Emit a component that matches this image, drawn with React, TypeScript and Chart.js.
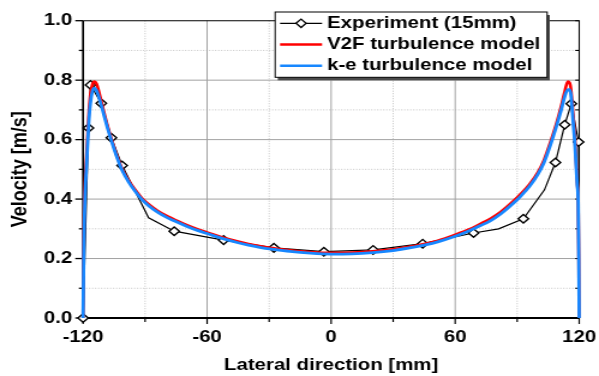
import React, { useEffect, useRef } from 'react';
import { Chart, registerables } from 'chart.js';

Chart.register(...registerables);

// Page / canvas geometry (the reference is horizontally stretched, so we draw
// on a narrower canvas and stretch it with CSS).
const PAGE_W = 599;
const PAGE_H = 376;
const STRETCH = 1.2;
const CANVAS_W = Math.round(PAGE_W / STRETCH);

const FONT = '"Liberation Sans", Arial, Helvetica, sans-serif';

// Axis ticks
const xMajorTicks = [-120, -60, 0, 60, 120];
const xMinorTicks = [-90, -30, 30, 90];
const yMajorTicks = [0, 0.2, 0.4, 0.6, 0.8, 1.0];
const yMinorTicks = [0.1, 0.3, 0.5, 0.7, 0.9];

// Series labels
const seriesLabels = ['Experiment (15mm)', 'V2F turbulence model', 'k-e turbulence model'];

// Experiment (15mm)
const expX = [-120, -117.4, -116.4, -111.2, -106.3, -101.1, -88.3, -75.9, -52, -27.7, -3.5, 20.3, 44.3, 68.9, 81, 93, 103.2, 108.5, 113, 116.2, 119.7, 120];
const expY = [0, 0.639, 0.784, 0.722, 0.606, 0.513, 0.337, 0.292, 0.262, 0.236, 0.223, 0.229, 0.25, 0.286, 0.3, 0.334, 0.431, 0.523, 0.65, 0.721, 0.592, 0];
const expMarked = [1, 1, 1, 1, 1, 1, 0, 1, 1, 1, 1, 1, 1, 1, 0, 1, 0, 1, 1, 1, 1, 0];

// V2F turbulence model
const v2fX = [-120, -119.6, -119, -118.2, -117.4, -116.5, -115.5, -114.5, -113.5, -112, -110, -108, -106, -104, -101, -98, -95, -91.5, -88, -84, -80, -76, -70, -64, -60, -52, -45, -40, -34, -28, -20, -10, 0, 10, 20, 30, 40, 45, 52, 60, 66, 72, 77, 82, 88, 92, 96, 100, 103, 106, 109, 111.3, 113, 114.5, 115.3, 116, 117, 118, 119, 119.5, 119.8, 120];
const v2fY = [0, 0.3, 0.46, 0.56, 0.67, 0.75, 0.785, 0.795, 0.788, 0.752, 0.695, 0.642, 0.596, 0.553, 0.5, 0.463, 0.433, 0.403, 0.381, 0.361, 0.345, 0.332, 0.313, 0.297, 0.288, 0.27, 0.257, 0.249, 0.241, 0.235, 0.228, 0.222, 0.219, 0.22, 0.224, 0.231, 0.242, 0.249, 0.261, 0.28, 0.296, 0.316, 0.334, 0.357, 0.392, 0.419, 0.45, 0.49, 0.532, 0.59, 0.655, 0.713, 0.762, 0.795, 0.792, 0.77, 0.69, 0.595, 0.46, 0.39, 0.2, 0];

// k-e turbulence model
const keX = [-120, -119.6, -119, -118.2, -117.4, -116.5, -115.5, -114.5, -113.5, -112, -110, -108, -106, -104, -101, -98, -95, -91.5, -88, -84, -80, -76, -70, -64, -60, -52, -45, -40, -34, -28, -20, -10, 0, 10, 20, 30, 40, 45, 52, 60, 66, 72, 77, 82, 88, 92, 96, 100, 103, 106, 109, 111.3, 113, 114.5, 115.3, 116, 117, 118, 119, 119.5, 119.8, 120];
const keY = [0, 0.25, 0.42, 0.53, 0.64, 0.72, 0.762, 0.773, 0.765, 0.735, 0.685, 0.635, 0.59, 0.548, 0.495, 0.458, 0.428, 0.398, 0.376, 0.356, 0.34, 0.327, 0.309, 0.293, 0.284, 0.266, 0.253, 0.245, 0.237, 0.231, 0.224, 0.218, 0.215, 0.216, 0.22, 0.227, 0.238, 0.245, 0.257, 0.275, 0.291, 0.31, 0.327, 0.35, 0.385, 0.412, 0.443, 0.483, 0.523, 0.58, 0.645, 0.7, 0.745, 0.768, 0.768, 0.75, 0.665, 0.575, 0.45, 0.39, 0.2, 0];

const toPoints = (xs: number[], ys: number[]) => xs.map((x, i) => ({ x, y: ys[i] }));

const framePlugin = {
  id: 'originFrame',
  beforeDatasetsDraw(chart: any) {
    const { ctx, chartArea: a, scales } = chart;
    const xs = scales.x;
    const ys = scales.y;
    ctx.save();
    // minor dotted grid
    ctx.strokeStyle = '#c4c4c4';
    ctx.lineWidth = 1;
    ctx.setLineDash([1, 1.5]);
    yMinorTicks.forEach((v) => {
      const p = ys.getPixelForValue(v);
      ctx.beginPath(); ctx.moveTo(a.left, p); ctx.lineTo(a.right, p); ctx.stroke();
    });
    xMinorTicks.forEach((v) => {
      const p = xs.getPixelForValue(v);
      ctx.beginPath(); ctx.moveTo(p, a.top); ctx.lineTo(p, a.bottom); ctx.stroke();
    });
    // major solid grid
    ctx.setLineDash([]);
    ctx.strokeStyle = '#a2a2a2';
    yMajorTicks.forEach((v) => {
      if (v <= 0 || v >= 1) return;
      const p = ys.getPixelForValue(v);
      ctx.beginPath(); ctx.moveTo(a.left, p); ctx.lineTo(a.right, p); ctx.stroke();
    });
    xMajorTicks.forEach((v) => {
      if (v <= -120 || v >= 120) return;
      const p = xs.getPixelForValue(v);
      ctx.beginPath(); ctx.moveTo(p, a.top); ctx.lineTo(p, a.bottom); ctx.stroke();
    });
    // frame: top & right thin
    ctx.strokeStyle = '#000';
    ctx.lineWidth = 1.1;
    ctx.beginPath(); ctx.moveTo(a.left, a.top); ctx.lineTo(a.right, a.top); ctx.lineTo(a.right, a.bottom); ctx.stroke();
    // inner ticks on right border
    [...yMajorTicks, ...yMinorTicks].forEach((v) => {
      const p = ys.getPixelForValue(v);
      ctx.beginPath(); ctx.moveTo(a.right, p); ctx.lineTo(a.right - 3.3, p); ctx.stroke();
    });
    // left & bottom axes
    ctx.lineWidth = 1.7;
    ctx.beginPath(); ctx.moveTo(a.left, a.top); ctx.lineTo(a.left, a.bottom); ctx.stroke();
    ctx.lineWidth = 2;
    ctx.beginPath(); ctx.moveTo(a.left - 1, a.bottom); ctx.lineTo(a.right + 0.5, a.bottom); ctx.stroke();
    // outer ticks
    ctx.lineWidth = 1.3;
    yMajorTicks.forEach((v) => {
      const p = ys.getPixelForValue(v);
      ctx.beginPath(); ctx.moveTo(a.left, p); ctx.lineTo(a.left - 6.5, p); ctx.stroke();
    });
    yMinorTicks.forEach((v) => {
      const p = ys.getPixelForValue(v);
      ctx.beginPath(); ctx.moveTo(a.left, p); ctx.lineTo(a.left - 3.5, p); ctx.stroke();
    });
    ctx.lineWidth = 1.2;
    xMajorTicks.forEach((v) => {
      const p = xs.getPixelForValue(v);
      ctx.beginPath(); ctx.moveTo(p, a.bottom); ctx.lineTo(p, a.bottom + 6); ctx.stroke();
    });
    xMinorTicks.forEach((v) => {
      const p = xs.getPixelForValue(v);
      ctx.beginPath(); ctx.moveTo(p, a.bottom); ctx.lineTo(p, a.bottom + 4); ctx.stroke();
    });
    ctx.restore();
  },
};

const legendPlugin = {
  id: 'boxLegend',
  afterDraw(chart: any) {
    const { ctx } = chart;
    const L = 229.2, T = 12, R = 455.8, B = 77.3;
    ctx.save();
    ctx.fillStyle = '#4a4a4a';
    ctx.fillRect(L + 2.2, T + 3, R - L, B - T);
    ctx.fillStyle = '#fff';
    ctx.fillRect(L, T, R - L, B - T);
    ctx.strokeStyle = '#000';
    ctx.lineWidth = 1;
    ctx.strokeRect(L, T, R - L, B - T);
    const x0 = 233.3, x1 = 268.3, tx = 272.5;
    chart.data.datasets.forEach((ds: any, i: number) => {
      const y = T + 11.3 + i * 21.25;
      ctx.strokeStyle = ds.borderColor;
      ctx.lineWidth = i === 0 ? 1.2 : 2.6;
      ctx.beginPath(); ctx.moveTo(x0, y); ctx.lineTo(x1, y); ctx.stroke();
      if (i === 0) {
        const cx = (x0 + x1) / 2, r = 4.2;
        ctx.beginPath();
        ctx.moveTo(cx - r, y); ctx.lineTo(cx, y - r); ctx.lineTo(cx + r, y); ctx.lineTo(cx, y + r); ctx.closePath();
        ctx.fillStyle = '#fff'; ctx.fill();
        ctx.lineWidth = 1.3; ctx.strokeStyle = '#000'; ctx.stroke();
      }
      ctx.fillStyle = '#000';
      ctx.font = `bold 17px ${FONT}`;
      ctx.textBaseline = 'middle';
      ctx.textAlign = 'left';
      ctx.fillText(ds.label, tx, y);
    });
    ctx.restore();
  },
};

export default function App() {
  const canvasRef = useRef<HTMLCanvasElement | null>(null);

  useEffect(() => {
    document.body.style.margin = '0';
    const canvas = canvasRef.current;
    if (!canvas) return;
    const chart = new Chart(canvas, {
      type: 'scatter',
      data: {
        datasets: [
          {
            label: seriesLabels[0],
            data: toPoints(expX, expY),
            showLine: true,
            borderColor: '#000',
            backgroundColor: '#fff',
            borderWidth: 1.2,
            tension: 0,
            pointStyle: 'rectRot',
            pointRadius: expMarked.map((m) => (m ? 4.3 : 0)),
            pointBorderWidth: 1.4,
            pointBorderColor: '#000',
            pointBackgroundColor: '#fff',
            clip: 8,
            order: 3,
          },
          {
            label: seriesLabels[1],
            data: toPoints(v2fX, v2fY),
            showLine: true,
            borderColor: '#ff0000',
            backgroundColor: '#ff0000',
            borderWidth: 2.6,
            pointRadius: 0,
            cubicInterpolationMode: 'monotone',
            clip: 8,
            order: 2,
          },
          {
            label: seriesLabels[2],
            data: toPoints(keX, keY),
            showLine: true,
            borderColor: '#1787ff',
            backgroundColor: '#1787ff',
            borderWidth: 2.8,
            pointRadius: 0,
            cubicInterpolationMode: 'monotone',
            clip: 8,
            order: 1,
          },
        ],
      },
      options: {
        responsive: false,
        maintainAspectRatio: false,
        devicePixelRatio: 1,
        animation: false,
        events: [],
        layout: { padding: { left: 0, right: 16.5, top: 20.7, bottom: 0 } },
        plugins: {
          legend: { display: false },
          tooltip: { enabled: false },
        },
        scales: {
          x: {
            type: 'linear',
            min: -120,
            max: 120,
            afterBuildTicks: (s: any) => { s.ticks = xMajorTicks.map((v) => ({ value: v })); },
            afterFit: (s: any) => { s.height = 58; s.paddingLeft = 0; s.paddingRight = 0; },
            ticks: {
              autoSkip: false,
              maxRotation: 0,
              color: '#000',
              padding: 9,
              font: { family: FONT, size: 17, weight: 'bold' },
              callback: (v: any) => String(v),
            },
            grid: { display: false, drawTicks: false },
            border: { display: false },
            title: {
              display: true,
              text: 'Lateral direction [mm]',
              color: '#000',
              font: { family: FONT, size: 17, weight: 'bold' },
              padding: { top: 0, bottom: 0 },
            },
          },
          y: {
            type: 'linear',
            min: 0,
            max: 1,
            afterBuildTicks: (s: any) => { s.ticks = yMajorTicks.map((v) => ({ value: v })); },
            afterFit: (s: any) => { s.width = 69.2; s.paddingTop = 0; s.paddingBottom = 0; },
            ticks: {
              autoSkip: false,
              color: '#000',
              padding: 9,
              font: { family: FONT, size: 17, weight: 'bold' },
              callback: (v: any) => Number(v).toFixed(1),
            },
            grid: { display: false, drawTicks: false },
            border: { display: false },
            title: {
              display: true,
              text: 'Velocity [m/s]',
              color: '#000',
              font: { family: FONT, size: 18, weight: 'bold' },
              padding: { top: 6.5, bottom: 0 },
            },
          },
        },
      },
      plugins: [framePlugin, legendPlugin],
    } as any);
    return () => chart.destroy();
  }, []);

  return (
    <div style={{ width: PAGE_W, height: PAGE_H, background: '#fff' }}>
      <canvas
        ref={canvasRef}
        width={CANVAS_W}
        height={PAGE_H}
        style={{ width: `${PAGE_W}px`, height: `${PAGE_H}px`, display: 'block' }}
      />
    </div>
  );
}
